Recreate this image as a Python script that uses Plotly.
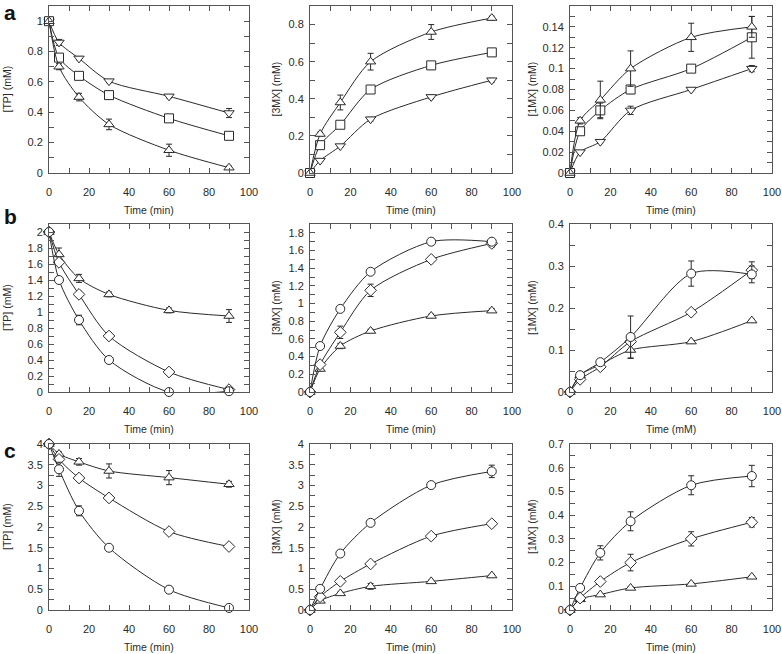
import plotly.graph_objects as go

t = [0, 5, 15, 30, 60, 90]

# Row a (triangle-up, square, triangle-down)
a_tp_up = [1.0, 0.70, 0.50, 0.32, 0.15, 0.035]
a_tp_up_err = [0, 0.02, 0.025, 0.035, 0.04, 0.01]
a_tp_sq = [1.0, 0.76, 0.64, 0.513, 0.36, 0.245]
a_tp_sq_err = [0, 0.02, 0.02, 0.01, 0.01, 0.01]
a_tp_dn = [1.0, 0.86, 0.755, 0.605, 0.505, 0.395]
a_tp_dn_err = [0, 0.02, 0.01, 0.01, 0.01, 0.03]

a_3m_up = [0, 0.21, 0.38, 0.60, 0.76, 0.835]
a_3m_up_err = [0, 0.01, 0.04, 0.045, 0.04, 0.01]
a_3m_sq = [0, 0.15, 0.26, 0.45, 0.58, 0.65]
a_3m_sq_err = [0, 0.01, 0.01, 0.02, 0.02, 0.01]
a_3m_dn = [0, 0.067, 0.145, 0.29, 0.41, 0.50]
a_3m_dn_err = [0, 0.005, 0.005, 0.01, 0.01, 0.01]

a_1m_up = [0, 0.05, 0.07, 0.10, 0.13, 0.14]
a_1m_up_err = [0, 0.003, 0.018, 0.017, 0.0135, 0.01]
a_1m_sq = [0, 0.04, 0.06, 0.08, 0.10, 0.13]
a_1m_sq_err = [0, 0.003, 0.007, 0.004, 0.002, 0.02]
a_1m_dn = [0, 0.02, 0.03, 0.06, 0.08, 0.10]
a_1m_dn_err = [0, 0.001, 0.001, 0.004, 0.001, 0.003]

# Row b (triangle-up, diamond, circle)
b_tp_up = [2.0, 1.72, 1.42, 1.22, 1.02, 0.95]
b_tp_up_err = [0, 0.08, 0.05, 0.03, 0.03, 0.08]
b_tp_di = [2.0, 1.62, 1.22, 0.70, 0.25, 0.03]
b_tp_di_err = [0, 0.03, 0.04, 0.04, 0.02, 0.02]
b_tp_ci = [2.0, 1.40, 0.90, 0.40, 0.0, 0.01]
b_tp_ci_err = [0, 0.03, 0.06, 0.04, 0.0, 0.01]

b_3m_up = [0, 0.26, 0.52, 0.69, 0.86, 0.92]
b_3m_up_err = [0, 0.02, 0.03, 0.02, 0.02, 0.02]
b_3m_di = [0, 0.31, 0.675, 1.15, 1.50, 1.68]
b_3m_di_err = [0, 0.02, 0.07, 0.07, 0.02, 0.04]
b_3m_ci = [0, 0.52, 0.94, 1.36, 1.70, 1.70]
b_3m_ci_err = [0, 0.01, 0.02, 0.02, 0.03, 0.03]

b_1m_up = [0, 0.04, 0.065, 0.10, 0.12, 0.17]
b_1m_up_err = [0, 0.002, 0.003, 0.02, 0.003, 0.003]
b_1m_di = [0, 0.03, 0.06, 0.12, 0.19, 0.29]
b_1m_di_err = [0, 0.002, 0.003, 0.005, 0.005, 0.02]
b_1m_ci = [0, 0.04, 0.071, 0.131, 0.282, 0.28]
b_1m_ci_err = [0, 0.003, 0.005, 0.05, 0.03, 0.02]

# Row c (triangle-up, diamond, circle)
c_tp_up = [4.0, 3.76, 3.57, 3.35, 3.19, 3.03]
c_tp_up_err = [0, 0.05, 0.08, 0.17, 0.17, 0.07]
c_tp_di = [4.0, 3.63, 3.18, 2.70, 1.89, 1.53]
c_tp_di_err = [0, 0.05, 0.08, 0.05, 0.05, 0.04]
c_tp_ci = [4.0, 3.39, 2.39, 1.50, 0.49, 0.05]
c_tp_ci_err = [0, 0.17, 0.12, 0.06, 0.08, 0.02]

c_3m_up = [0, 0.22, 0.40, 0.57, 0.69, 0.83]
c_3m_up_err = [0, 0.02, 0.03, 0.07, 0.03, 0.03]
c_3m_di = [0, 0.32, 0.69, 1.11, 1.78, 2.08]
c_3m_di_err = [0, 0.02, 0.03, 0.03, 0.05, 0.05]
c_3m_ci = [0, 0.51, 1.36, 2.10, 3.01, 3.34]
c_3m_ci_err = [0, 0.03, 0.04, 0.05, 0.04, 0.15]

c_1m_up = [0, 0.045, 0.065, 0.093, 0.11, 0.14]
c_1m_up_err = [0, 0.003, 0.003, 0.005, 0.005, 0.005]
c_1m_di = [0, 0.05, 0.12, 0.20, 0.30, 0.37]
c_1m_di_err = [0, 0.005, 0.01, 0.035, 0.03, 0.02]
c_1m_ci = [0, 0.093, 0.241, 0.374, 0.526, 0.565]
c_1m_ci_err = [0, 0.01, 0.03, 0.04, 0.04, 0.045]

y_titles = ["[TP] (mM)", "[3MX] (mM)", "[1MX] (mM)"]
x_titles = [["Time (min)"] * 3, ["Time (min)", "Time (min)", "Time (mM)"], ["Time (min)"] * 3]
y_ranges = [[1.1, 0.9, 0.16], [2.1, 1.9, 0.4], [4.0, 4.0, 0.7]]
y_label_step = [[0.2, 0.2, 0.02], [0.2, 0.2, 0.1], [0.5, 0.5, 0.1]]
y_tick_step = [[0.1, 0.1, 0.01], [0.1, 0.1, 0.05], [0.25, 0.25, 0.05]]
x_max = 100
x_label_step = 20
x_tick_step = 10
panel_letters = ["a", "b", "c"]

panels = [
    [
        [(a_tp_dn, a_tp_dn_err, "triangle-down"), (a_tp_sq, a_tp_sq_err, "square"), (a_tp_up, a_tp_up_err, "triangle-up")],
        [(a_3m_dn, a_3m_dn_err, "triangle-down"), (a_3m_sq, a_3m_sq_err, "square"), (a_3m_up, a_3m_up_err, "triangle-up")],
        [(a_1m_dn, a_1m_dn_err, "triangle-down"), (a_1m_sq, a_1m_sq_err, "square"), (a_1m_up, a_1m_up_err, "triangle-up")],
    ],
    [
        [(b_tp_up, b_tp_up_err, "triangle-up"), (b_tp_di, b_tp_di_err, "diamond"), (b_tp_ci, b_tp_ci_err, "circle")],
        [(b_3m_up, b_3m_up_err, "triangle-up"), (b_3m_di, b_3m_di_err, "diamond"), (b_3m_ci, b_3m_ci_err, "circle")],
        [(b_1m_up, b_1m_up_err, "triangle-up"), (b_1m_di, b_1m_di_err, "diamond"), (b_1m_ci, b_1m_ci_err, "circle")],
    ],
    [
        [(c_tp_up, c_tp_up_err, "triangle-up"), (c_tp_di, c_tp_di_err, "diamond"), (c_tp_ci, c_tp_ci_err, "circle")],
        [(c_3m_up, c_3m_up_err, "triangle-up"), (c_3m_di, c_3m_di_err, "diamond"), (c_3m_ci, c_3m_ci_err, "circle")],
        [(c_1m_up, c_1m_up_err, "triangle-up"), (c_1m_di, c_1m_di_err, "diamond"), (c_1m_ci, c_1m_ci_err, "circle")],
    ],
]


def ticks(vmax, step, label_step):
    n = int(round(vmax / step))
    vals, texts = [], []
    for i in range(n + 1):
        v = round(i * step, 6)
        vals.append(v)
        ratio = v / label_step
        texts.append(f"{v:g}" if abs(ratio - round(ratio)) < 1e-6 else "")
    return vals, texts


W, H = 782, 654
col_px = [(49, 249), (310, 512), (570, 772)]
row_px = [(6, 173), (224, 392), (444, 610)]
ytitle_px = [7, 276, 532]

FONT = "Liberation Sans Narrow, Arial Narrow, Liberation Sans, Arial"
INK = "#2a2a2a"
FRAME = "#555555"

fig = go.Figure()
layout = {}
annotations = []

xv, xt = ticks(x_max, x_tick_step, x_label_step)

for r in range(3):
    for c in range(3):
        k = r * 3 + c + 1
        xa = "x" if k == 1 else f"x{k}"
        ya = "y" if k == 1 else f"y{k}"
        for ys, errs, sym in panels[r][c]:
            fig.add_trace(go.Scatter(
                x=t, y=ys, xaxis=xa, yaxis=ya, mode="lines+markers",
                line=dict(color=INK, width=1, shape="spline", smoothing=0.8),
                marker=dict(symbol=sym, size=9, color="white", line=dict(width=1, color=INK)),
                error_y=dict(type="data", array=errs, visible=True, color=INK, thickness=1, width=3),
                showlegend=False, cliponaxis=False,
            ))
        x0, x1 = col_px[c]
        top, bot = row_px[r]
        common = dict(showline=True, linecolor=FRAME, linewidth=1, mirror="allticks",
                      ticks="inside", ticklen=5, tickcolor=FRAME, tickwidth=1,
                      showgrid=False, zeroline=False, automargin=False,
                      tickfont=dict(family=FONT, size=11, color=INK))
        yv, yt = ticks(y_ranges[r][c], y_tick_step[r][c], y_label_step[r][c])
        layout["xaxis" if k == 1 else f"xaxis{k}"] = dict(
            domain=[x0 / W, x1 / W], anchor=ya, range=[0, x_max],
            tickmode="array", tickvals=xv, ticktext=xt,
            ticklabelstandoff=9, **common)
        layout["yaxis" if k == 1 else f"yaxis{k}"] = dict(
            domain=[1 - bot / H, 1 - top / H], anchor=xa, range=[0, y_ranges[r][c]],
            tickmode="array", tickvals=yv, ticktext=yt,
            ticklabelstandoff=3, **common)
        annotations.append(dict(text=x_titles[r][c], x=(x0 + x1) / 2 / W, y=1 - (bot + 37) / H,
                                xref="paper", yref="paper", showarrow=False,
                                font=dict(family=FONT, size=10.5, color=INK),
                                xanchor="center", yanchor="middle"))
        annotations.append(dict(text=y_titles[c], x=ytitle_px[c] / W, y=1 - (top + bot) / 2 / H,
                                xref="paper", yref="paper", showarrow=False, textangle=-90,
                                font=dict(family=FONT, size=10.5, color=INK),
                                xanchor="center", yanchor="middle"))
    annotations.append(dict(text=f"<b>{panel_letters[r]}</b>", x=10 / W,
                            y=1 - [12, 217, 450][r] / H, xref="paper", yref="paper",
                            showarrow=False, font=dict(family="Liberation Sans, Arial", size=21, color="#111"),
                            xanchor="center", yanchor="middle"))

fig.update_layout(template="none", width=W, height=H, margin=dict(l=0, r=0, t=0, b=0, autoexpand=False),
                  paper_bgcolor="white", plot_bgcolor="white",
                  annotations=annotations, **layout)
fig.write_html("out.html", config={"displayModeBar": False},
               post_script="document.body.style.margin='0px';document.body.style.padding='0px';"
                           "document.documentElement.style.overflow='hidden';")
